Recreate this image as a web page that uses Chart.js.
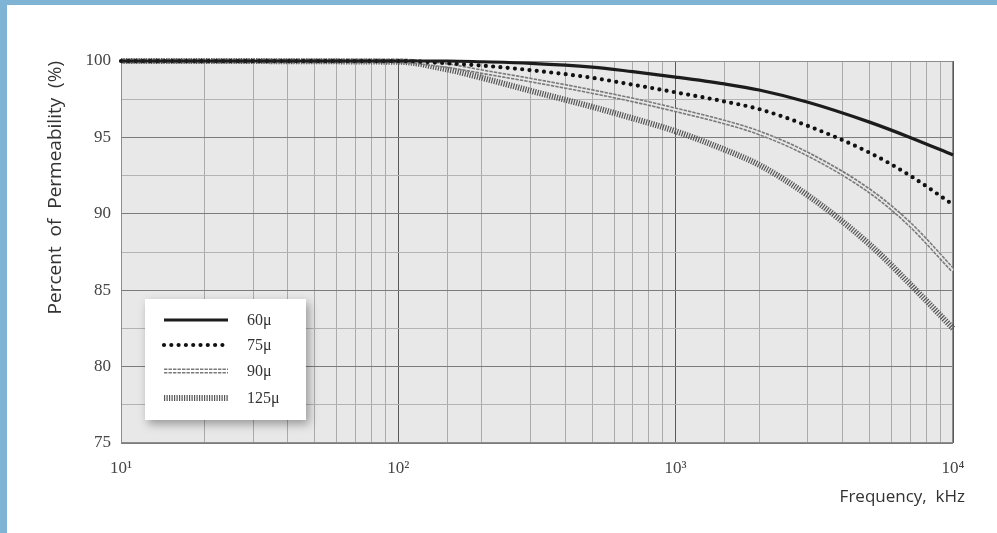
<!DOCTYPE html>
<html>
<head>
<meta charset="utf-8">
<title>Permeability vs Frequency</title>
<script src="https://cdn.jsdelivr.net/npm/chart.js@4.4.1/dist/chart.umd.min.js"></script>
<style>
  html, body { margin: 0; padding: 0; background: #fff; }
  #wrap { width: 997px; height: 533px; }
</style>
</head>
<body>
<div id="wrap"><canvas id="permChart"></canvas></div>
<script>
// frequency in kHz, permeability in % of initial
const frequencies = [10, 100, 150, 200, 300, 500, 700, 1000, 1500, 2000, 3000, 5000, 7000, 10000];
const perm60  = [100, 100, 100, 99.95, 99.85, 99.6, 99.3, 98.95, 98.5, 98.1, 97.3, 96.0, 95.0, 93.85];
const perm75  = [100, 100, 99.85, 99.7, 99.4, 98.9, 98.45, 97.95, 97.35, 96.85, 95.75, 94.0, 92.5, 90.6];
const perm90  = [100, 100, 99.7, 99.3, 98.75, 98.0, 97.45, 96.8, 96.0, 95.3, 93.9, 91.5, 89.3, 86.3];
const perm125 = [100, 99.95, 99.45, 98.9, 98.05, 97.0, 96.25, 95.4, 94.2, 93.2, 91.2, 88.0, 85.4, 82.5];
const seriesLabels = ['60μ', '75μ', '90μ', '125μ'];
const decadeLabels = { 10: '10¹', 100: '10²', 1000: '10³', 10000: '10⁴' };

const SERIF = "'Liberation Serif', 'DejaVu Serif', serif";
const SANS = "'Open Sans', 'Noto Sans', sans-serif";
const PLOT_BG = '#e8e8e8';

// stroke style for each curve (solid, dots, hollow chain, hatched)
const lineStyles = [
    { color: '#1c1c1c', width: 3.2, dash: [], cap: 'butt' },
    { color: '#111111', width: 4.2, dash: [0, 7.3], cap: 'round' },
    { color: '#7a7a7a', width: 5, dash: [3.4, 1.1], cap: 'butt', inner: true, innerWidth: 1.8 },
    { color: '#555555', width: 6, dash: [1.2, 1.3], cap: 'butt' }
];

const seriesValues = [perm60, perm75, perm90, perm125];

const datasets = seriesValues.map((vals, i) => ({
    label: seriesLabels[i],
    data: frequencies.map((f, j) => ({ x: f, y: vals[j] })),
    borderColor: lineStyles[i].color,
    borderWidth: lineStyles[i].width,
    borderDash: lineStyles[i].dash,
    borderCapStyle: lineStyles[i].cap,
    cubicInterpolationMode: 'monotone',
    pointRadius: 0,
    fill: false,
    clip: false
}));

function strokeSample(ctx, st, x1, x2, y, bg) {
    ctx.beginPath();
    ctx.moveTo(x1, y);
    ctx.lineTo(x2, y);
    ctx.strokeStyle = st.color;
    ctx.lineWidth = st.width;
    ctx.lineCap = st.cap;
    ctx.setLineDash(st.dash);
    ctx.stroke();
    if (st.inner) {
        ctx.setLineDash([]);
        ctx.lineCap = 'butt';
        ctx.strokeStyle = bg;
        ctx.lineWidth = st.innerWidth;
        ctx.stroke();
    }
}

const framePlugin = {
    id: 'frame',
    beforeDraw(chart) {
        const { ctx, chartArea: a, width, height } = chart;
        ctx.save();
        ctx.fillStyle = '#80b4d4';
        ctx.fillRect(0, 0, width, height);
        ctx.fillStyle = '#ffffff';
        ctx.fillRect(7, 5, width - 7, height - 5);
        ctx.fillStyle = PLOT_BG;
        ctx.fillRect(a.left, a.top, a.right - a.left, a.bottom - a.top);
        ctx.restore();
    },
    beforeDatasetsDraw(chart) {
        const { ctx, chartArea: a } = chart;
        ctx.save();
        ctx.strokeStyle = '#8c8c8c';
        ctx.lineWidth = 1;
        ctx.strokeRect(a.left + 0.5, a.top + 0.5, a.right - a.left - 1, a.bottom - a.top - 1);
        ctx.restore();
    },
    afterDatasetDraw(chart, args) {
        // hollow centre for the 90μ chain line
        const st = lineStyles[args.index];
        if (!st || !st.inner) return;
        const line = chart.getDatasetMeta(args.index).dataset;
        const ctx = chart.ctx;
        ctx.save();
        ctx.beginPath();
        line.path(ctx);
        ctx.strokeStyle = PLOT_BG;
        ctx.lineWidth = st.innerWidth;
        ctx.setLineDash([]);
        ctx.stroke();
        ctx.restore();
    },
    afterDatasetsDraw(chart) {
        const ctx = chart.ctx;
        ctx.save();

        // legend box with drop shadow
        const bx = 145, by = 299, bw = 161, bh = 121;
        ctx.shadowColor = 'rgba(0,0,0,0.35)';
        ctx.shadowBlur = 9;
        ctx.shadowOffsetX = 3;
        ctx.shadowOffsetY = 4;
        ctx.fillStyle = '#ffffff';
        ctx.fillRect(bx, by, bw, bh);
        ctx.shadowColor = 'transparent';

        const rowY = [320, 345, 371, 398];
        ctx.font = '16px ' + SERIF;
        ctx.textBaseline = 'middle';
        seriesLabels.forEach((lbl, i) => {
            strokeSample(ctx, lineStyles[i], 164, 228, rowY[i], '#ffffff');
            ctx.fillStyle = '#333333';
            ctx.fillText(lbl, 247, rowY[i] + 1);
        });

        // x axis title, right aligned past the plot edge
        ctx.font = '17px ' + SANS;
        ctx.fillStyle = '#333333';
        ctx.textAlign = 'right';
        ctx.fillText('Frequency,  kHz', 965, 497);
        ctx.restore();
    }
};

document.addEventListener('DOMContentLoaded', function() {
    const ctx = document.getElementById('permChart').getContext('2d');
    new Chart(ctx, {
        type: 'line',
        data: { datasets: datasets },
        options: {
            responsive: true,
            maintainAspectRatio: false,
            animation: false,
            layout: { padding: { top: 61, right: 44, left: 0, bottom: 0 } },
            plugins: {
                legend: { display: false },
                tooltip: { enabled: false }
            },
            scales: {
                x: {
                    type: 'logarithmic',
                    min: 10,
                    max: 10000,
                    afterFit: function(scale) { scale.height = 90; },
                    border: { display: false },
                    grid: {
                        drawTicks: false,
                        color: function(c) {
                            const v = c.tick ? Math.round(c.tick.value) : 0;
                            return decadeLabels[v] ? '#5a5a5a' : '#ababab';
                        }
                    },
                    ticks: {
                        autoSkip: false,
                        maxRotation: 0,
                        padding: 15,
                        color: '#444444',
                        font: { family: SERIF, size: 17 },
                        callback: function(v) { return decadeLabels[Math.round(v)] || ''; }
                    }
                },
                y: {
                    min: 75,
                    max: 100,
                    afterFit: function(scale) { scale.width = 121; },
                    border: { display: false },
                    grid: {
                        drawTicks: false,
                        color: function(c) {
                            return c.tick && c.tick.value % 5 === 0 ? '#7c7c7c' : '#b3b3b3';
                        }
                    },
                    ticks: {
                        stepSize: 2.5,
                        padding: 10,
                        color: '#444444',
                        font: { family: SERIF, size: 17 },
                        callback: function(v) { return v % 5 === 0 ? String(v) : ''; }
                    },
                    title: {
                        display: true,
                        text: 'Percent  of  Permeability  (%)',
                        align: 'end',
                        color: '#333333',
                        font: { family: SANS, size: 19 },
                        padding: { top: 44, bottom: 0 }
                    }
                }
            }
        },
        plugins: [framePlugin]
    });
});
</script>
</body>
</html>
